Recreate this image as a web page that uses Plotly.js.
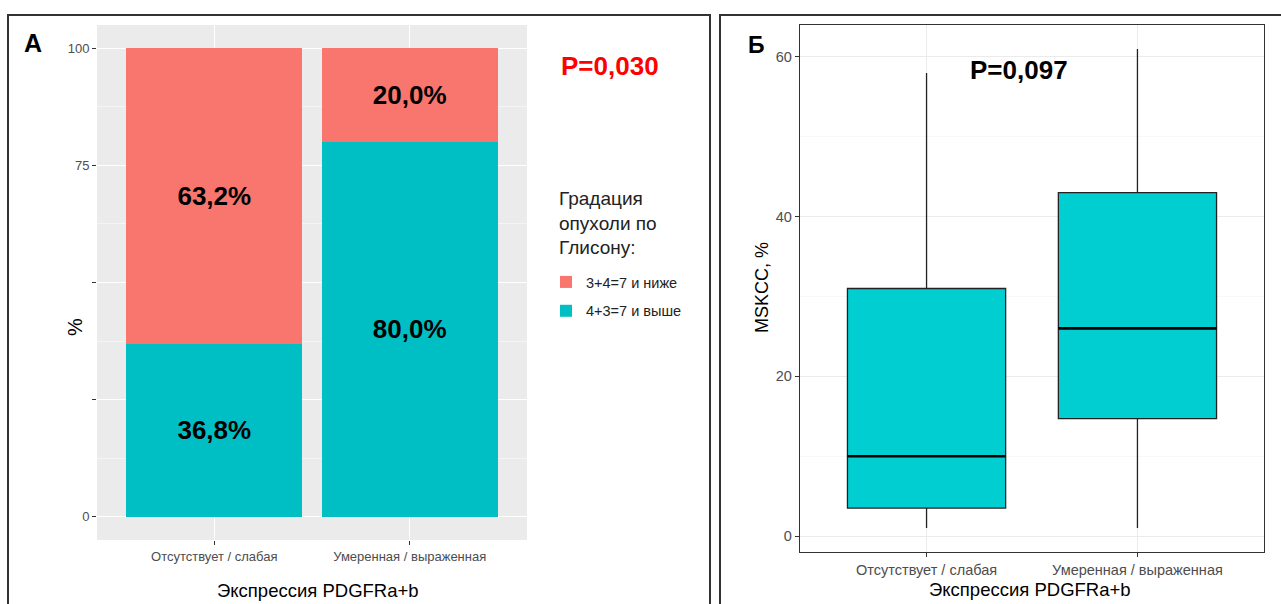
<!DOCTYPE html>
<html>
<head>
<meta charset="utf-8">
<script src="https://cdn.plot.ly/plotly-3.0.1.min.js"></script>
<style>html,body{margin:0;padding:0;background:#fff;}#chart{width:1281px;height:604px;}</style>
</head>
<body>
<div id="chart"></div>
<script>
// ---- data ----
const categories = ["Отсутствует / слабая", "Умеренная / выраженная"];
const seriesNames = ["4+3=7 и выше", "3+4=7 и ниже"];
const highGrade = [36.8, 80.0];   // cyan, bottom
const lowGrade = [63.2, 20.0];    // red, top
const pctTicks = [0, 25, 50, 75, 100];
const pctTickText = ["0", "", "", "75", "100"];

const boxQ1 = [3.5, 14.7];
const boxMedian = [10, 26];
const boxQ3 = [31, 43];
const boxLow = [1, 1];
const boxHigh = [58, 61];
const mskccTicks = [0, 20, 40, 60];

const W = 1281, H = 604;
const px = v => v / W;
const py = v => 1 - v / H;
const fmt = v => v.toFixed(1).replace('.', ',') + '%';
const xpos = categories.map((c, i) => i + 1);
const sans = "Liberation Sans, Arial, sans-serif";

const barText = {size: 26, color: '#000', family: sans, weight: 'bold'};

const traces = [
  {type: 'bar', x: xpos, y: highGrade, name: seriesNames[0], marker: {color: '#00BFC4'},
   width: 0.9, text: highGrade.map(fmt), textposition: 'inside', insidetextanchor: 'middle',
   textfont: barText, xaxis: 'x', yaxis: 'y', hoverinfo: 'skip', legendgroup: 'g1', legendrank: 2},
  {type: 'bar', x: xpos, y: lowGrade, name: seriesNames[1], marker: {color: '#F8766D'},
   width: 0.9, text: lowGrade.map(fmt), textposition: 'inside', insidetextanchor: 'middle',
   textfont: barText, xaxis: 'x', yaxis: 'y', hoverinfo: 'skip', legendgroup: 'g2', legendrank: 1},
  {type: 'box', x: xpos, q1: boxQ1, median: boxMedian, q3: boxQ3, lowerfence: boxLow, upperfence: boxHigh,
   width: 0.75, fillcolor: '#00CED1', line: {color: '#222', width: 1.3}, whiskerwidth: 0,
   showlegend: false, xaxis: 'x2', yaxis: 'y2', hoverinfo: 'skip'}
];
// thick median lines (from data)
boxMedian.forEach((m, i) => {
  traces.push({type: 'scatter', mode: 'lines', x: [xpos[i] - 0.375, xpos[i] + 0.375], y: [m, m],
    line: {color: '#000', width: 2.6}, showlegend: false, xaxis: 'x2', yaxis: 'y2', hoverinfo: 'skip'});
});

const tickFontA = {family: sans, size: 13, color: '#4D4D4D'};
const tickFontB = {family: sans, size: 14.5, color: '#4D4D4D'};

function ann(text, x, y, size, extra) {
  return Object.assign({text: text, x: px(x), y: py(y), xref: 'paper', yref: 'paper', showarrow: false,
    xanchor: 'center', yanchor: 'middle', font: {family: sans, size: size, color: '#000'}}, extra || {});
}

const layout = {
  width: W, height: H,
  margin: {l: 0, r: 0, t: 0, b: 0},
  paper_bgcolor: '#fff',
  barmode: 'stack',
  showlegend: true,
  legend: {
    x: px(546), y: py(266), xanchor: 'left', yanchor: 'top',
    traceorder: 'grouped',
    font: {family: sans, size: 14.5, color: '#222'},
    bgcolor: 'rgba(0,0,0,0)', itemwidth: 30, tracegroupgap: 7
  },
  xaxis: {
    domain: [px(97), px(527)], range: [0.4, 2.6], tickvals: xpos, ticktext: categories,
    showgrid: true, gridcolor: '#fff', gridwidth: 1.1, zeroline: false, showline: false,
    ticks: 'outside', ticklen: 4, tickcolor: '#333', tickfont: tickFontA, fixedrange: true
  },
  yaxis: {
    domain: [py(540), py(25)], range: [-5, 105], tickvals: pctTicks, ticktext: pctTickText,
    showgrid: true, gridcolor: '#fff', gridwidth: 1.1, zeroline: false, showline: false,
    ticks: 'outside', ticklen: 4, tickcolor: '#333', tickfont: tickFontA,
    minor: {tickvals: [12.5, 37.5, 62.5, 87.5], showgrid: true, gridcolor: '#fff', gridwidth: 0.5},
    fixedrange: true
  },
  xaxis2: {
    domain: [px(800), px(1264)], range: [0.4, 2.6], tickvals: xpos, ticktext: categories, anchor: 'y2',
    showgrid: true, gridcolor: '#EBEBEB', gridwidth: 1, zeroline: false,
    showline: true, linecolor: '#333', linewidth: 1.3, mirror: true,
    ticks: 'outside', ticklen: 4, tickcolor: '#333', tickfont: tickFontB, fixedrange: true
  },
  yaxis2: {
    domain: [py(552), py(25)], range: [-2, 64], tickvals: mskccTicks, anchor: 'x2',
    showgrid: true, gridcolor: '#EBEBEB', gridwidth: 1, zeroline: false,
    showline: true, linecolor: '#333', linewidth: 1.3, mirror: true,
    ticks: 'outside', ticklen: 4, tickcolor: '#333', tickfont: tickFontB,
    minor: {tickvals: [10, 30, 50], showgrid: true, gridcolor: '#F4F4F4', gridwidth: 0.6},
    fixedrange: true
  },
  plot_bgcolor: '#EBEBEB',
  shapes: [
    {type: 'rect', xref: 'paper', yref: 'paper', x0: px(8), x1: px(710), y0: -0.05, y1: py(15),
     line: {color: '#333', width: 2}, fillcolor: 'rgba(0,0,0,0)', layer: 'below'},
    {type: 'rect', xref: 'paper', yref: 'paper', x0: px(720), x1: 1.05, y0: -0.05, y1: py(15),
     line: {color: '#333', width: 2}, fillcolor: 'rgba(0,0,0,0)', layer: 'below'},
    {type: 'rect', xref: 'x2 domain', yref: 'y2 domain', x0: 0, x1: 1, y0: 0, y1: 1,
     line: {width: 0}, fillcolor: '#fff', layer: 'below'}
  ],
  annotations: [
    ann('А', 33, 43, 25, {font: {family: sans, size: 25, color: '#000', weight: 'bold'}}),
    ann('Б', 756, 45, 23, {font: {family: sans, size: 23, color: '#000', weight: 'bold'}}),
    ann('P=0,030', 610, 66, 26, {font: {family: sans, size: 26, color: '#FF0000', weight: 'bold'}}),
    ann('P=0,097', 1019, 70, 26, {font: {family: sans, size: 26, color: '#000', weight: 'bold'}}),
    ann('%', 75, 327, 20, {textangle: -90}),
    ann('MSKCC, %', 762, 288, 18, {textangle: -90}),
    ann('Экспрессия PDGFRa+b', 318, 590, 18.5),
    ann('Экспрессия PDGFRa+b', 1030, 589, 18.5),
    ann('Градация<br>опухоли по<br>Глисону:', 557, 223, 19,
        {xanchor: 'left', align: 'left', font: {family: sans, size: 19, color: '#222'}})
  ]
};

Plotly.newPlot('chart', traces, layout, {displayModeBar: false, staticPlot: true});
</script>
</body>
</html>
